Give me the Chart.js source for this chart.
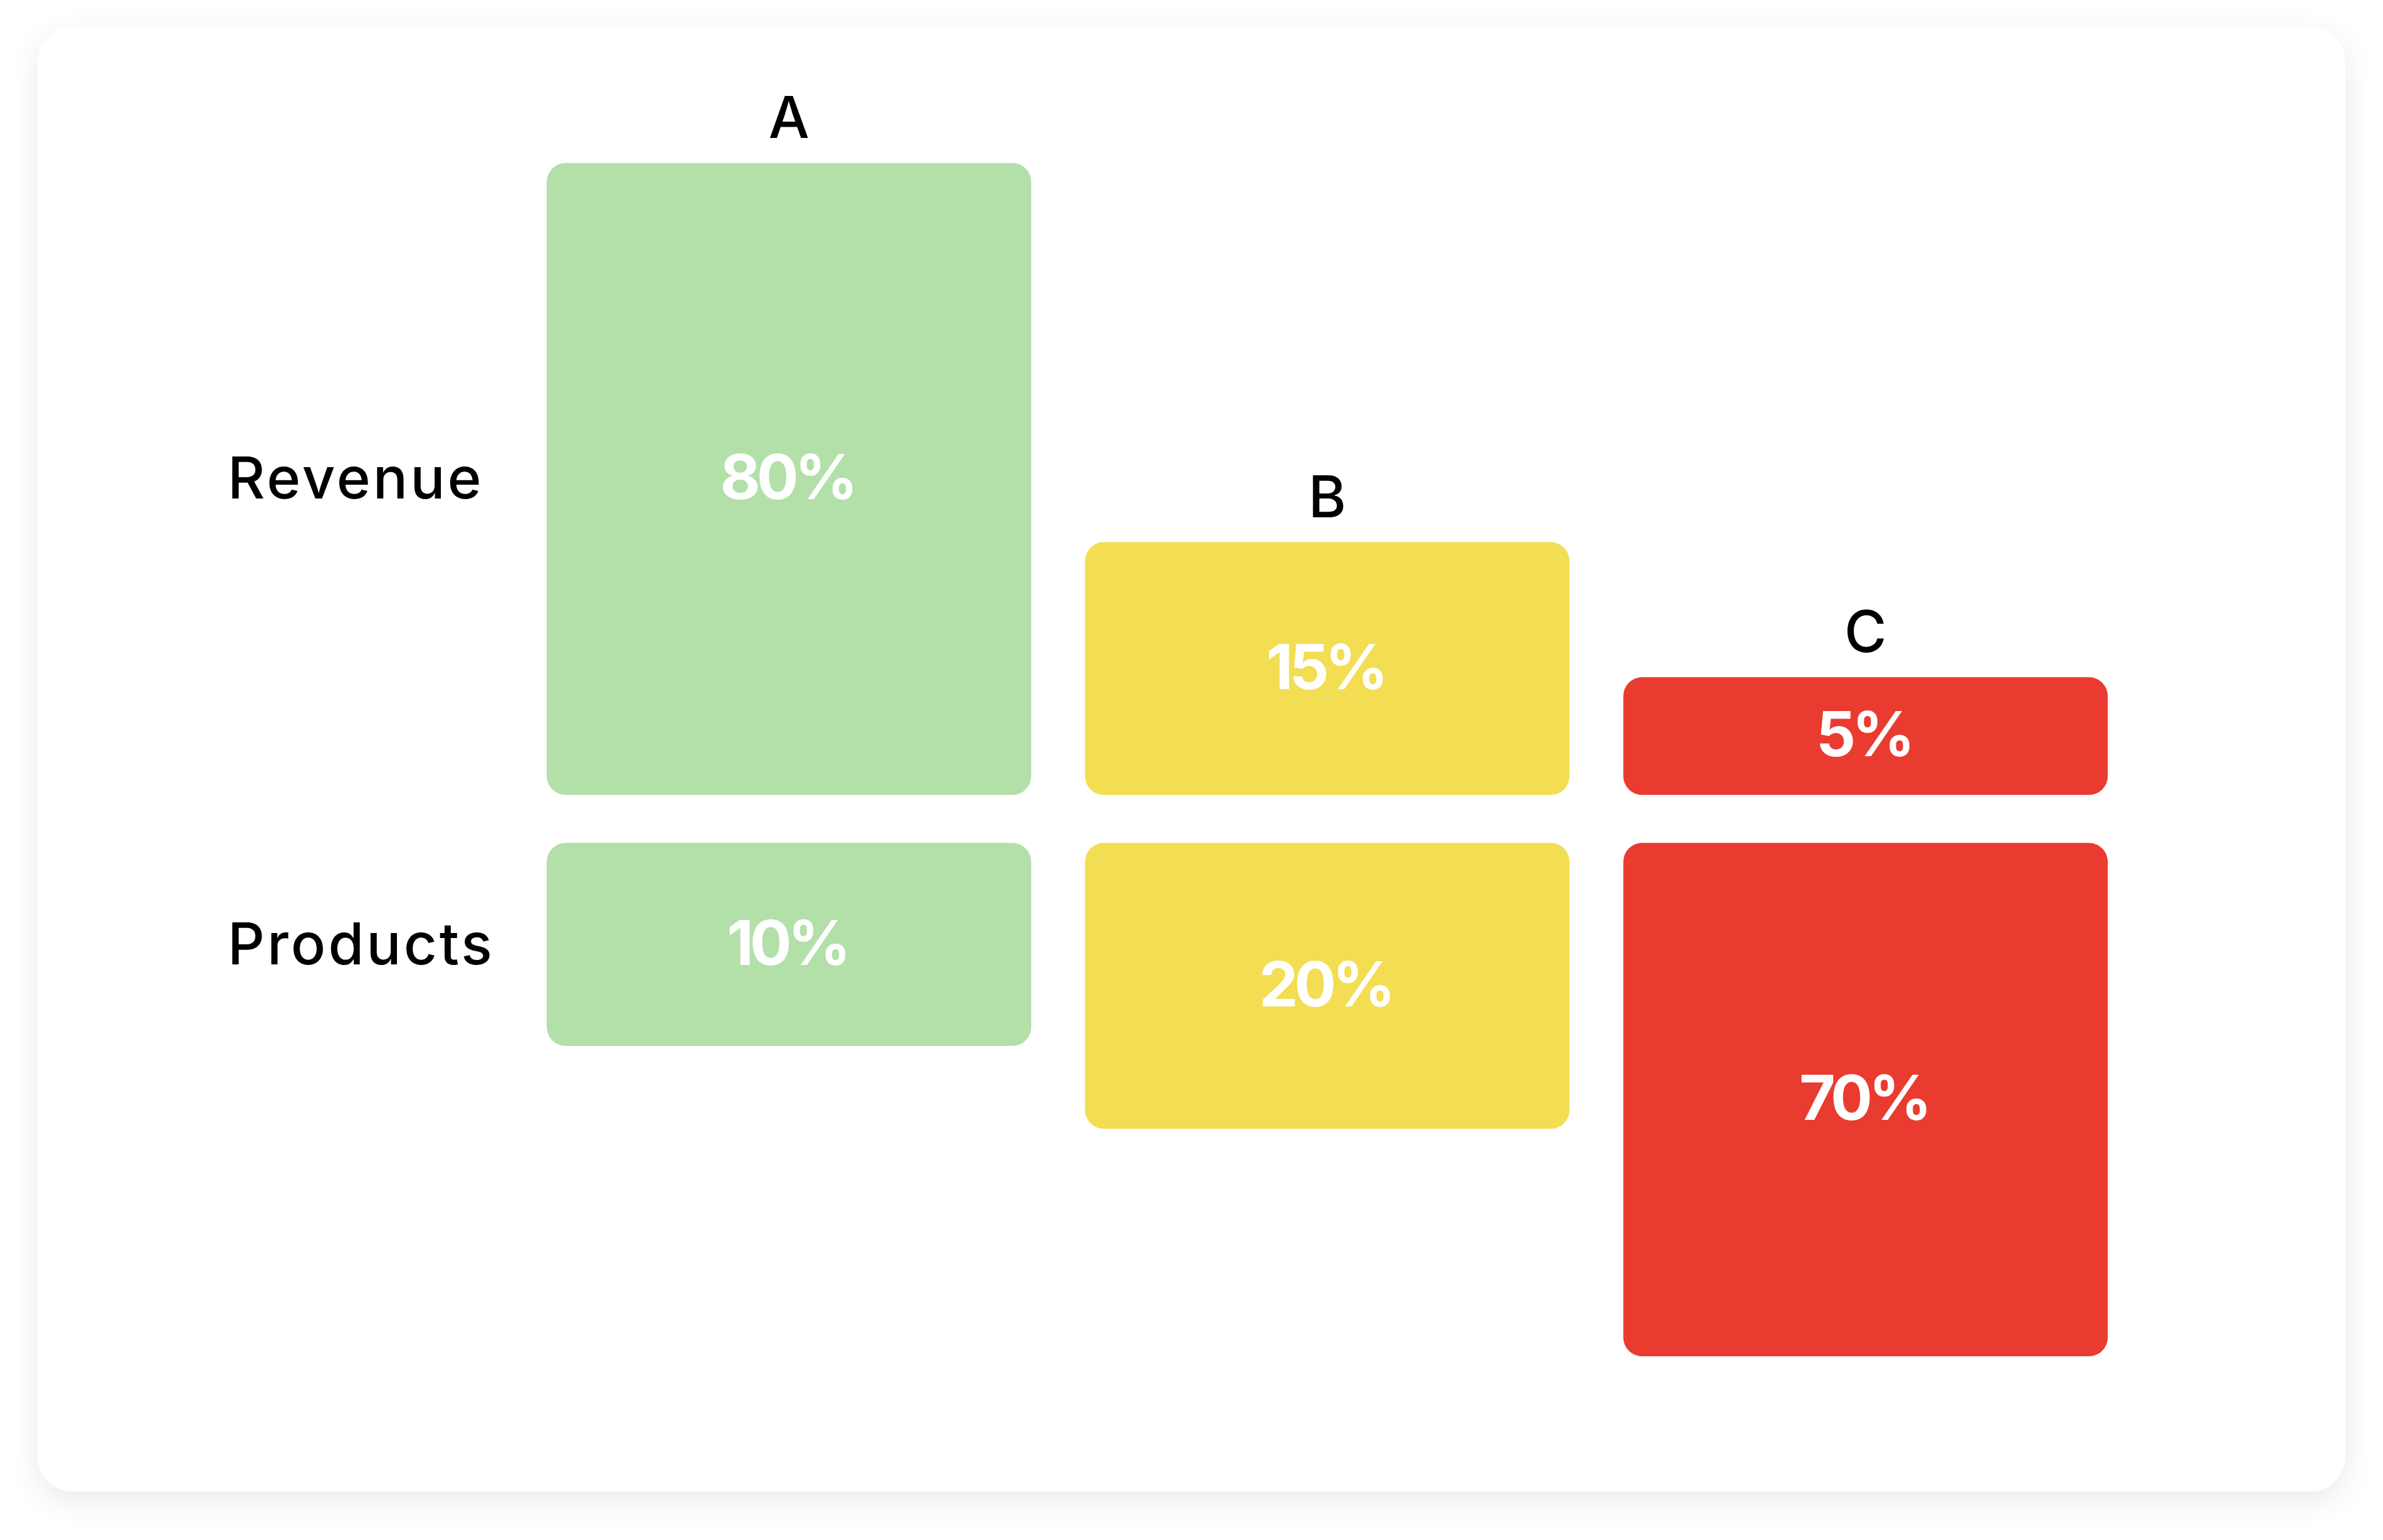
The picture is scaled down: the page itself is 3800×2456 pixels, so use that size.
<!DOCTYPE html>
<html>
<head>
<meta charset="utf-8">
<script src="https://cdn.jsdelivr.net/npm/chart.js@4/dist/chart.umd.min.js"></script>
<style>
  html, body { margin: 0; padding: 0; background: #ffffff; width: 3800px; height: 2456px; overflow: hidden; }
  #card { position: absolute; left: 60px; top: 43px; width: 3680px; height: 2336px; background: #ffffff;
          border-radius: 56px; box-shadow: 0 14px 50px rgba(0,0,0,0.085); }
  #c { position: absolute; left: 0; top: 0; }
</style>
</head>
<body>
<div id="card"></div>
<canvas id="c" width="3800" height="2456"></canvas>
<script>
// ---- data ----
const categories = ['A', 'B', 'C'];
const rowLabels = ['Revenue', 'Products'];
const revenueShare = [80, 15, 5];        // printed values (%)
const productsShare = [10, 20, 70];      // printed values (%)
const revenueBarLength = [80, 32.0, 14.9];   // bar lengths as drawn
const productsBarLength = [25.7, 36.2, 65.0];
const barColors = ['#B2E0A8', '#F3DE53', '#EA3B30'];

// ---- layout constants ----
const ROW_GAP = 3.04; // half of the gap between the two rows, in value units
const FONT = 'Inter';
const VALUE_LS = -6;

const revenueData = revenueBarLength.map(v => [ROW_GAP, ROW_GAP + v]);
const productsData = productsBarLength.map(v => [-ROW_GAP - v, -ROW_GAP]);

const labelPlugin = {
  id: 'labels',
  afterDatasetsDraw(chart) {
    const ctx = chart.ctx;
    ctx.save();
    const shares = [revenueShare, productsShare];
    chart.data.datasets.forEach((ds, di) => {
      const meta = chart.getDatasetMeta(di);
      meta.data.forEach((el, i) => {
        const p = el.getProps(['x', 'y', 'base'], true);
        const top = Math.min(p.y, p.base), bottom = Math.max(p.y, p.base);
        const cy = (top + bottom) / 2;
        // value label
        ctx.font = '700 99px ' + FONT;
        ctx.letterSpacing = VALUE_LS + 'px';
        ctx.fillStyle = '#ffffff';
        ctx.textAlign = 'center';
        ctx.textBaseline = 'alphabetic';
        const txt = shares[di][i] + '%';
        const m = ctx.measureText('0');
        const capH = m.actualBoundingBoxAscent;
        ctx.fillText(txt, p.x + VALUE_LS / 2, cy + capH / 2 - 4);
        // category label above revenue bars
        if (di === 0) {
          ctx.font = '500 92px ' + FONT;
          ctx.letterSpacing = '0px';
          ctx.fillStyle = '#000000';
          ctx.textAlign = 'center';
          ctx.fillText(categories[i], p.x, top - 40);
        }
        // row label aligned with first column
        if (i === 0) {
          ctx.font = '500 92px ' + FONT;
          ctx.letterSpacing = '4px';
          ctx.fillStyle = '#000000';
          ctx.textAlign = 'left';
          const mh = ctx.measureText('H');
          ctx.fillText(rowLabels[di], 363, cy + mh.actualBoundingBoxAscent / 2 - 2);
        }
      });
    });
    ctx.restore();
  }
};

new Chart(document.getElementById('c'), {
  type: 'bar',
  data: {
    labels: categories,
    datasets: [
      { label: rowLabels[0], data: revenueData, backgroundColor: barColors },
      { label: rowLabels[1], data: productsData, backgroundColor: barColors }
    ]
  },
  options: {
    responsive: false,
    animation: false,
    devicePixelRatio: 1,
    layout: { padding: { left: 829, right: 396, top: 260, bottom: 293 } },
    datasets: {
      bar: {
        grouped: false,
        categoryPercentage: 1.0,
        barPercentage: 0.9,
        borderRadius: 30,
        borderSkipped: false,
        borderWidth: 0
      }
    },
    scales: {
      x: { display: false },
      y: {
        display: false,
        min: -(ROW_GAP + Math.max(...productsBarLength)),
        max: ROW_GAP + Math.max(...revenueBarLength)
      }
    },
    plugins: { legend: { display: false }, tooltip: { enabled: false } }
  },
  plugins: [labelPlugin]
});
</script>
</body>
</html>
